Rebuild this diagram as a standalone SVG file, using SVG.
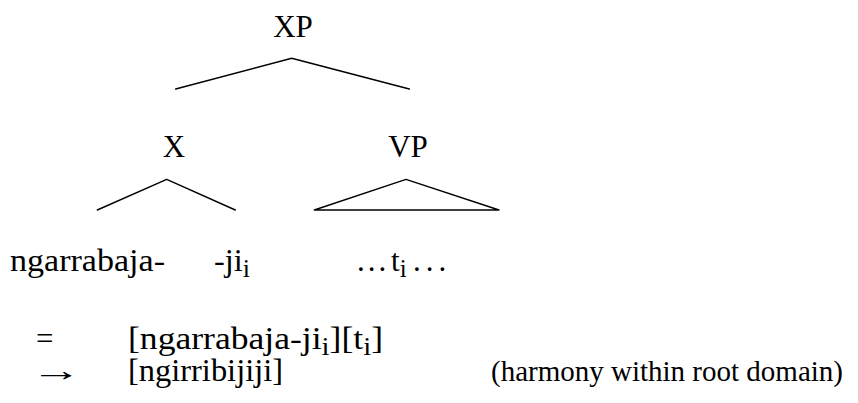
<svg xmlns="http://www.w3.org/2000/svg" width="858" height="403" viewBox="0 0 858 403">
  <style>
    .cat { font-family: "Liberation Serif", "Times New Roman", serif; font-size: 31px; fill: #000; text-anchor: middle; }
    .txt { font-family: "Liberation Serif", "Times New Roman", serif; font-size: 31px; fill: #000; }
    .note { font-family: "Liberation Serif", "Times New Roman", serif; font-size: 29px; fill: #000; }
    .sub { font-size: 25px; }
    .edge { stroke: #000; stroke-width: 1.4; fill: none; stroke-linecap: round; stroke-linejoin: round; }
  </style>
  <rect width="858" height="403" fill="#fff"/>

  <!-- tree branches -->
  <g id="connectors">
    <polyline class="edge" points="175.7,89 291.7,58.3 409.3,89"/>
    <polyline class="edge" points="97.3,210 166.7,179.3 235.3,210"/>
    <polygon class="edge" points="314.3,210 406,179.3 499,210"/>
  </g>

  <!-- category labels -->
  <g id="node-XP"><text class="cat" x="293" y="37">XP</text></g>
  <g id="node-X"><text class="cat" x="174" y="157">X</text></g>
  <g id="node-VP"><text class="cat" x="408" y="157">VP</text></g>

  <!-- terminals -->
  <g id="leaf-root"><text class="txt" x="10" y="271" textLength="155" lengthAdjust="spacingAndGlyphs">ngarrabaja-</text></g>
  <g id="leaf-suffix"><text class="txt" x="214" y="271" textLength="36" lengthAdjust="spacingAndGlyphs">-ji<tspan class="sub" dy="6">i</tspan></text></g>
  <g id="leaf-trace"><text class="txt" x="357" y="271"><tspan letter-spacing="3">...</tspan><tspan x="391">t</tspan><tspan class="sub" dy="6">i</tspan><tspan x="413" dy="-6" letter-spacing="5">...</tspan></text></g>

  <!-- derivation lines -->
  <g id="line-1">
    <text class="txt" x="36" y="349">=</text>
    <text class="txt" x="128" y="349" textLength="255" lengthAdjust="spacingAndGlyphs">[ngarrabaja-ji<tspan class="sub" dy="6">i</tspan><tspan dy="-6">][t</tspan><tspan class="sub" dy="6">i</tspan><tspan dy="-6">]</tspan></text>
  </g>
  <g id="line-2">
    <text class="txt" transform="translate(31,381) scale(1.65,1)">→</text>
    <text class="txt" x="128" y="381" textLength="155" lengthAdjust="spacingAndGlyphs">[ngirribijiji]</text>
    <text class="note" x="491" y="381">(harmony within root domain)</text>
  </g>
</svg>
